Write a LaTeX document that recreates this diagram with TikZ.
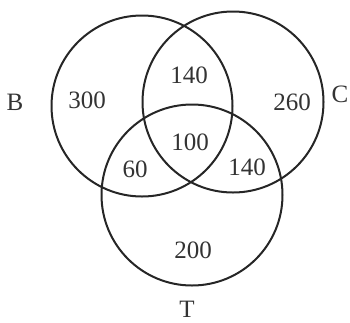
\documentclass[tikz,border=0pt]{standalone}
\usepackage{fontspec}
\setmainfont{Liberation Serif}
\usetikzlibrary{positioning}
\tikzset{
  ring/.style={
    draw=black!85,
    circle,
    line width=2pt,
    minimum size=181pt,
    inner sep=0pt
  },
  count/.style={inner sep=1pt, font=\fontsize{25}{27}\selectfont, text=black!80},
  setname/.style={inner sep=1pt, font=\fontsize{25}{27}\selectfont, text=black!80}
}

\begin{document}
\begin{tikzpicture}[x=1pt, y=-1pt]
  \useasboundingbox (0,0) rectangle (350,322);
  \node[ring] (ringB) at (142,106) {};
  \node[ring] (ringC) at (233,102) {};
  \node[ring] (ringT) at (192,195) {};
  \node[setname] (lblB) at (15,102) {B};
  \node[setname] (lblC) at (340,94) {C};
  \node[setname] (lblT) at (187,309) {T};
  \node[count] (nB)   at (87,100)  {300};
  \node[count] (nBC)  at (189,75)  {140};
  \node[count] (nC)   at (292,102) {260};
  \node[count] (nBCT) at (190,142) {100};
  \node[count] (nBT)  at (135,169) {60};
  \node[count] (nCT)  at (247,167) {140};
  \node[count] (nT)   at (193,250) {200};
\end{tikzpicture}
\end{document}
